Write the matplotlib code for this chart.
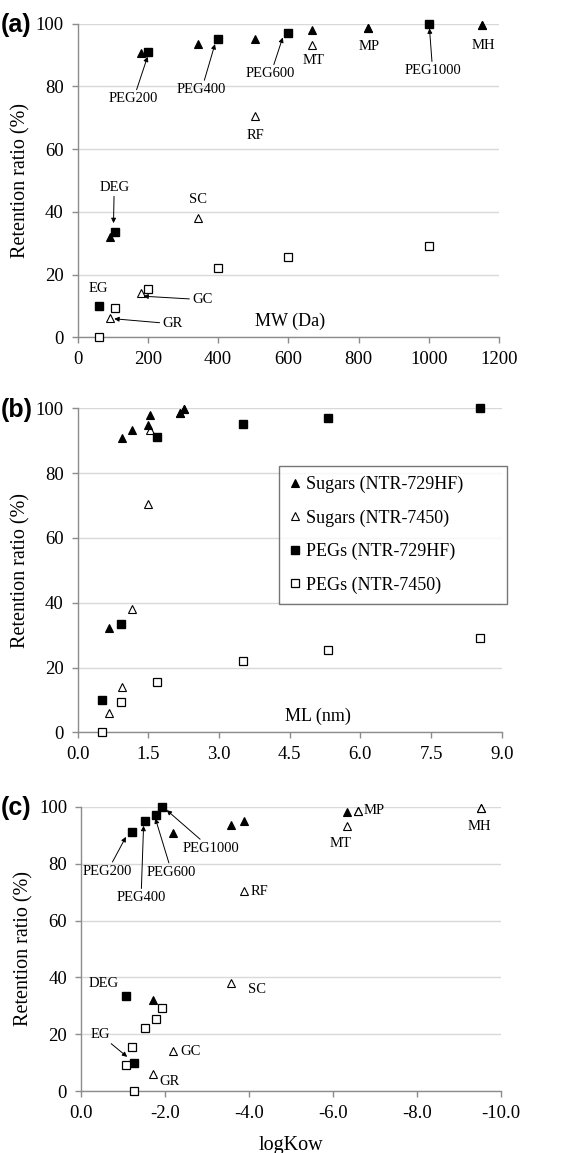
import matplotlib
matplotlib.use('Agg')
import matplotlib.pyplot as plt

plt.rcParams['font.family'] = ['Liberation Serif', 'DejaVu Serif']

# sugars: GR, GC, SC, RF, MT, MP, MH
sugar_names = ['GR', 'GC', 'SC', 'RF', 'MT', 'MP', 'MH']
mw_sugar = [92, 180, 342, 504, 667, 828, 1153]
ml_sugar = [0.67, 0.93, 1.16, 1.49, 1.54, 2.17, 2.26]
kow_sugar = [-1.72, -2.20, -3.56, -3.89, -6.33, -6.60, -9.52]
sugar_729 = [32.1, 90.8, 93.4, 95.0, 98.0, 98.5, 99.7]
sugar_7450 = [6.1, 14.0, 38.0, 70.5, 93.2, 98.5, 99.7]

# PEGs: EG, DEG, PEG200, PEG400, PEG600, PEG1000
peg_names = ['EG', 'DEG', 'PEG200', 'PEG400', 'PEG600', 'PEG1000']
mw_peg = [62, 106, 200, 400, 600, 1000]
ml_peg = [0.51, 0.92, 1.68, 3.50, 5.31, 8.54]
kow_peg = [-1.25, -1.08, -1.21, -1.53, -1.79, -1.94]
peg_729 = [10.1, 33.5, 91.0, 95.1, 97.0, 100.0]
peg_7450 = [0.0, 9.3, 15.4, 22.1, 25.5, 29.1]

y_ticks = [0, 20, 40, 60, 80, 100]
mw_ticks = [0, 200, 400, 600, 800, 1000, 1200]
ml_ticks = [0.0, 1.5, 3.0, 4.5, 6.0, 7.5, 9.0]
kow_ticks = [0.0, -2.0, -4.0, -6.0, -8.0, -10.0]

W, H = 586, 1153
fig = plt.figure(figsize=(W / 100, H / 100), dpi=100)


def px_axes(x0, x1, ytop, ybot):
    return fig.add_axes([x0 / W, 1 - ybot / H, (x1 - x0) / W, (ybot - ytop) / H])


def style(ax, xticks, fmt):
    ax.set_ylim(0, 100)
    ax.set_yticks(y_ticks)
    ax.set_xticks(xticks)
    ax.set_xticklabels([fmt(t) for t in xticks])
    for s in ['top', 'right']:
        ax.spines[s].set_visible(False)
    for s in ['left', 'bottom']:
        ax.spines[s].set_color('#8c8c8c')
        ax.spines[s].set_linewidth(1.0)
    ax.yaxis.grid(True, color='#d9d9d9', lw=1.0)
    ax.set_axisbelow(True)
    ax.tick_params(axis='both', labelsize=13.5, color='#8c8c8c', length=4, width=1.0)
    ax.tick_params(axis='x', pad=6)
    ax.tick_params(axis='y', pad=6)
    ax.set_ylabel('Retention ratio (%)', fontsize=14.5, labelpad=4)


def draw(ax, xs, xp, open_on_top):
    zf, zo = (3, 4) if open_on_top else (4, 3)
    ax.plot(xs, sugar_729, ls='none', marker='^', ms=5.8, mfc='black', mec='black', mew=0.8,
            label='Sugars (NTR-729HF)', zorder=zf, clip_on=False)
    ax.plot(xs, sugar_7450, ls='none', marker='^', ms=5.8, mfc='white', mec='black', mew=0.8,
            label='Sugars (NTR-7450)', zorder=zo, clip_on=False)
    ax.plot(xp, peg_729, ls='none', marker='s', ms=5.8, mfc='black', mec='black',
            label='PEGs (NTR-729HF)', zorder=5, clip_on=False)
    ax.plot(xp, peg_7450, ls='none', marker='s', ms=5.8, mfc='white', mec='black', mew=0.9,
            label='PEGs (NTR-7450)', zorder=5, clip_on=False)


arrow = dict(arrowstyle='-|>', lw=0.7, color='black', mutation_scale=7, shrinkA=0, shrinkB=0)
tfs = 10.5
pfs = 18

# (a) MW
ax1 = px_axes(77.7, 499, 23.7, 337.3)
ax1.set_xlim(0, 1200)
style(ax1, mw_ticks, lambda t: f'{t:d}')
draw(ax1, mw_sugar, mw_peg, False)
ax1.text(605, 5, 'MW (Da)', fontsize=13, ha='center', va='center')
ax1.annotate('PEG200', xy=(199, 89.5), xytext=(159, 76), fontsize=tfs, ha='center', va='center', arrowprops=arrow)
ax1.annotate('PEG400', xy=(391, 93.5), xytext=(353, 79), fontsize=tfs, ha='center', va='center', arrowprops=arrow)
ax1.annotate('PEG600', xy=(584, 95.6), xytext=(550, 84), fontsize=tfs, ha='center', va='center', arrowprops=arrow)
ax1.annotate('PEG1000', xy=(1002, 98.5), xytext=(1011, 85), fontsize=tfs, ha='center', va='center', arrowprops=arrow)
ax1.annotate('DEG', xy=(102, 36.4), xytext=(104, 47.9), fontsize=tfs, ha='center', va='center', arrowprops=arrow)
ax1.annotate('GC', xy=(187, 13.1), xytext=(355, 12), fontsize=tfs, ha='center', va='center', arrowprops=arrow)
ax1.annotate('GR', xy=(104, 5.9), xytext=(270, 4.3), fontsize=tfs, ha='center', va='center', arrowprops=arrow)
for lab, x, y in [('MT', 671, 88.4), ('MP', 831, 92.7), ('MH', 1156, 93), ('RF', 507, 64.3),
                  ('SC', 342, 43.8), ('EG', 59, 15.6)]:
    ax1.text(x, y, lab, fontsize=tfs, ha='center', va='center')
fig.text(1 / W, 1 - 25 / H, '(a)', fontsize=pfs, fontweight='bold', family='Liberation Sans', va='center')

# (b) ML
ax2 = px_axes(77.7, 501.7, 408.3, 732.3)
ax2.set_xlim(0, 9)
style(ax2, ml_ticks, lambda t: f'{t:.1f}')
draw(ax2, ml_sugar, ml_peg, False)
ax2.text(5.1, 5, 'ML (nm)', fontsize=13, ha='center', va='center')
fig.text(1 / W, 1 - 410 / H, '(b)', fontsize=pfs, fontweight='bold', family='Liberation Sans', va='center')
leg = ax2.legend(loc='upper left', bbox_to_anchor=(278.7 / W, 1 - 465.7 / H, 228 / W, 0.0),
                 bbox_transform=fig.transFigure, mode='expand', fontsize=13, frameon=True,
                 fancybox=False, edgecolor='#555555', handlelength=0.7, handletextpad=0.25,
                 labelspacing=0.9, borderpad=0.55, borderaxespad=0, markerscale=0.9)
leg.get_frame().set_linewidth(1.0)

# (c) logKow
ax3 = px_axes(81, 501, 806.7, 1091.3)
ax3.set_xlim(0, -10)
style(ax3, kow_ticks, lambda t: f'{t:.1f}')
draw(ax3, kow_sugar, kow_peg, True)
ax3.set_xlabel('logKow', fontsize=14.5, labelpad=10)
ax3.annotate('PEG200', xy=(-1.07, 89.4), xytext=(-0.63, 77.3), fontsize=tfs, ha='center', va='center', arrowprops=arrow)
ax3.annotate('PEG400', xy=(-1.49, 93.3), xytext=(-1.43, 68), fontsize=tfs, ha='center', va='center', arrowprops=arrow)
ax3.annotate('PEG600', xy=(-1.77, 95.9), xytext=(-2.16, 77), fontsize=tfs, ha='center', va='center', arrowprops=arrow)
ax3.annotate('PEG1000', xy=(-2.04, 98.8), xytext=(-3.09, 85.3), fontsize=tfs, ha='center', va='center', arrowprops=arrow)
ax3.annotate('EG', xy=(-1.10, 12.1), xytext=(-0.45, 20), fontsize=tfs, ha='center', va='center', arrowprops=arrow)
for lab, x, y in [('MT', -6.19, 87), ('MH', -9.48, 93.2), ('DEG', -0.54, 38)]:
    ax3.text(x, y, lab, fontsize=tfs, ha='center', va='center')
for lab, x, y in [('RF', -4.04, 70.2), ('MP', -6.72, 98.6), ('SC', -3.98, 35.6),
                  ('GC', -2.36, 13.9), ('GR', -1.87, 3.3)]:
    ax3.text(x, y, lab, fontsize=tfs, ha='left', va='center')
fig.text(1 / W, 1 - 808 / H, '(c)', fontsize=pfs, fontweight='bold', family='Liberation Sans', va='center')

fig.savefig('out.png', dpi=100)
